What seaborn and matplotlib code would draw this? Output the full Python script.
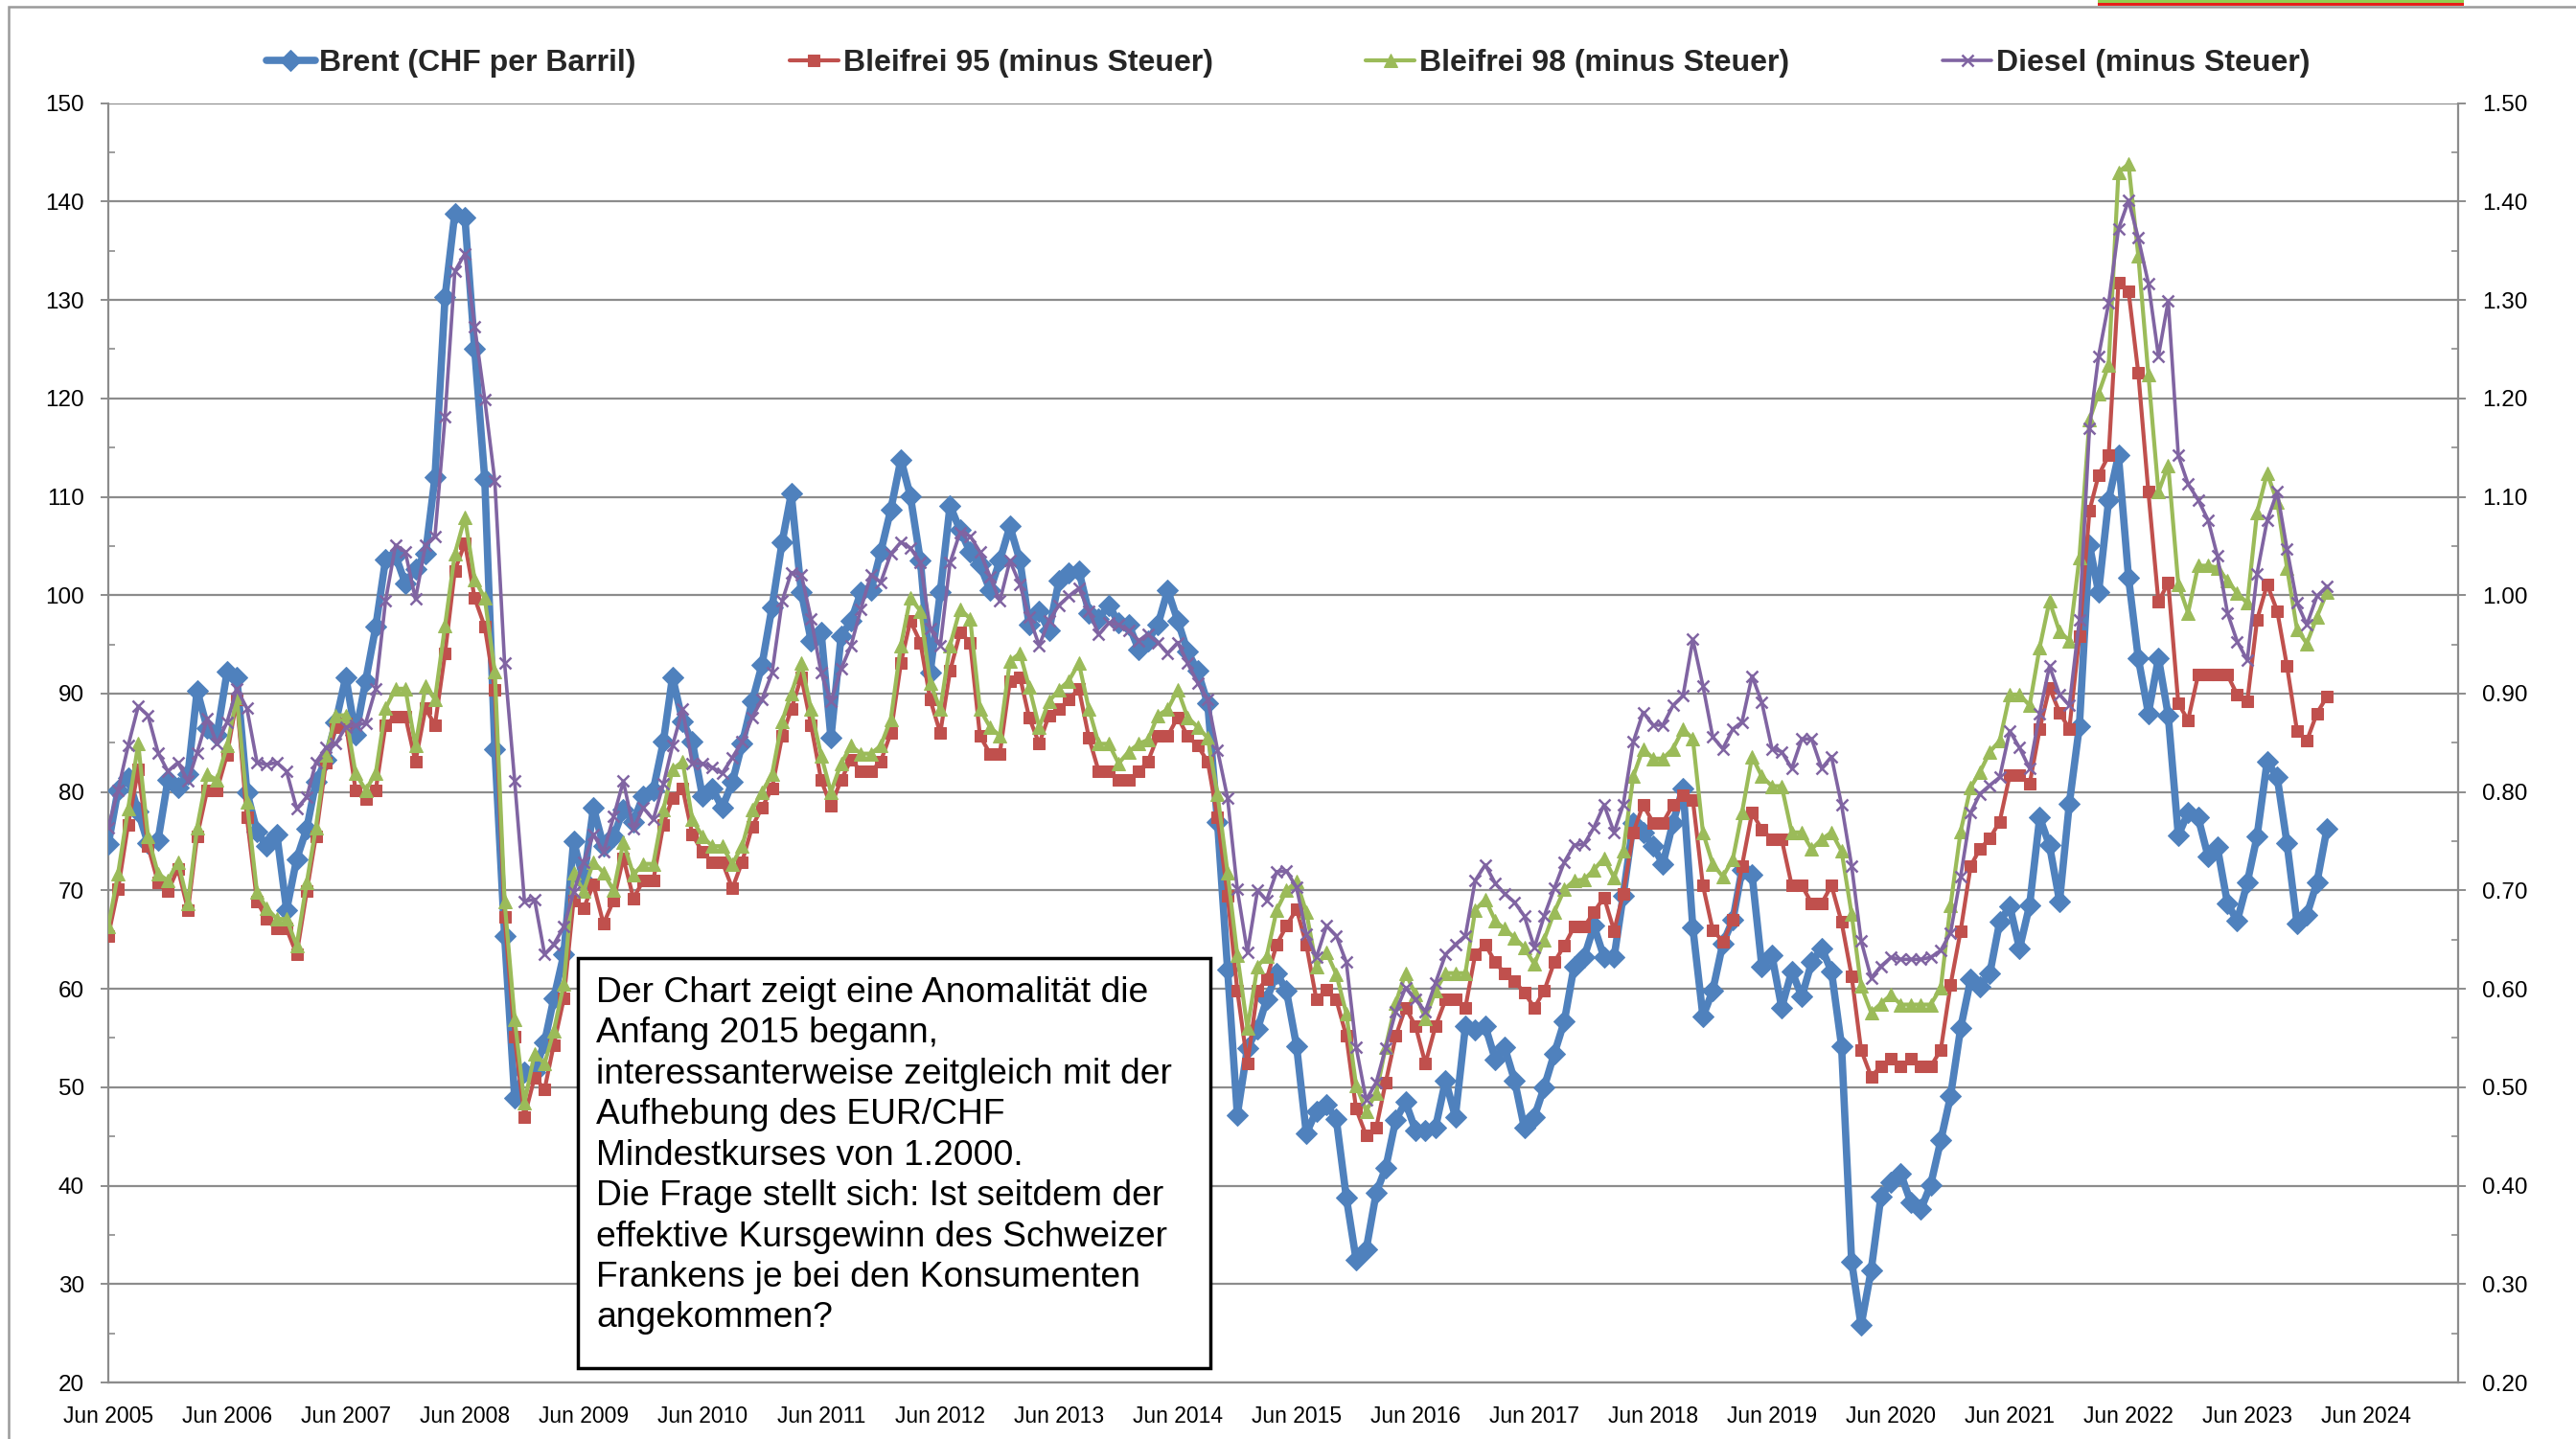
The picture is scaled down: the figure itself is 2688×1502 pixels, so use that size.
import numpy as np
import pandas as pd
import matplotlib
matplotlib.use("Agg")
import matplotlib.pyplot as plt
import matplotlib.dates as mdates
from matplotlib.ticker import MultipleLocator, FormatStrFormatter
from matplotlib.patches import Rectangle
import seaborn as sns

# ---------------- data (monthly, Jun 2005 .. Feb 2024) ----------------
start_month = "2005-06-01"

# Brent in CHF per barrel (left axis)
brent_chf = [
    74.7, 80.2, 81.4, 78.0, 74.8, 75.1, 81.2, 80.5, 81.8, 90.3, 86.5, 85.8,
    92.2, 91.7, 80.0, 76.0, 74.5, 75.7, 68.0, 73.2, 76.3, 81.0, 83.3, 87.1,
    91.7, 85.8, 91.3, 96.8, 103.6, 104.0, 101.2, 102.7, 104.2, 112.0, 130.3, 138.8,
    138.4, 125.0, 111.8, 84.4, 65.4, 48.9, 51.5, 51.5, 54.6, 59.0, 63.5, 75.0,
    71.0, 78.4, 74.5, 75.5, 78.2, 77.0, 79.6, 80.2, 85.1, 91.7, 87.2, 85.1,
    79.6, 80.4, 78.4, 81.0, 84.9, 89.2, 92.9, 98.8, 105.4, 110.3, 100.3, 95.4,
    96.2, 85.5, 95.8, 97.4, 100.3, 100.5, 104.4, 108.7, 113.8, 110.1, 103.5, 92.1,
    100.3, 109.1, 106.6, 104.4, 103.1, 100.5, 103.5, 107.0, 103.5, 97.0, 98.4, 96.4,
    101.5, 102.3, 102.5, 98.2, 97.6, 99.0, 97.2, 97.0, 94.5, 95.4, 97.0, 100.5,
    97.4, 94.3, 92.3, 89.0, 77.0, 62.0, 47.2, 54.0, 55.9, 58.9, 61.6, 59.8,
    54.2, 45.3, 47.6, 48.2, 46.8, 38.8, 32.5, 33.5, 39.3, 41.8, 46.7, 48.5,
    45.6, 45.6, 45.9, 50.7, 47.0, 56.2, 55.8, 56.2, 52.8, 54.1, 50.7, 45.9,
    47.0, 50.0, 53.4, 56.7, 62.3, 63.2, 66.4, 63.2, 63.2, 69.5, 76.9, 75.9,
    74.5, 72.7, 76.9, 80.4, 66.2, 57.2, 59.8, 64.6, 67.0, 72.1, 71.6, 62.3,
    63.4, 58.1, 61.8, 59.2, 62.7, 64.1, 61.8, 54.2, 32.3, 25.8, 31.4, 38.9,
    40.3, 41.2, 38.3, 37.6, 40.1, 44.6, 49.1, 56.0, 61.0, 60.2, 61.6, 66.8,
    68.4, 64.1, 68.5, 77.4, 74.6, 68.9, 78.8, 86.7, 105.1, 100.3, 109.7, 114.2,
    101.8, 93.6, 88.0, 93.6, 87.8, 75.6, 77.9, 77.4, 73.4, 74.4, 68.7, 66.9,
    70.8, 75.5, 83.1, 81.5, 74.8, 66.6, 67.5, 70.8, 76.3,
]

# Fuel prices without tax, in Rappen per litre (right axis shows CHF = Rappen/100)
bleifrei95_rp = [
    65.4, 70.1, 76.7, 82.3, 74.5, 70.8, 69.9, 72.2, 68.0, 75.5, 80.2, 80.2,
    83.8, 89.4, 77.4, 68.9, 67.1, 66.1, 66.1, 63.5, 69.9, 75.5, 83.0, 86.6,
    87.0, 80.2, 79.3, 80.2, 86.8, 87.7, 87.7, 83.1, 88.5, 86.8, 94.1, 102.5,
    105.3, 99.7, 96.8, 90.4, 67.3, 55.1, 47.0, 51.0, 49.8, 54.3, 59.0, 69.0,
    68.2, 70.6, 66.6, 69.0, 73.3, 69.2, 71.0, 71.0, 76.7, 79.4, 80.4, 75.7,
    73.9, 72.9, 72.9, 70.2, 72.9, 76.5, 78.4, 80.4, 85.7, 88.4, 91.7, 86.8,
    81.2, 78.6, 81.2, 83.3, 82.1, 82.1, 83.1, 86.0, 93.1, 97.4, 95.2, 89.4,
    86.0, 92.3, 96.2, 95.2, 85.7, 83.9, 83.9, 91.3, 91.7, 87.6, 84.9, 87.8,
    88.4, 89.4, 90.5, 85.5, 82.1, 82.1, 81.2, 81.2, 82.1, 83.1, 85.7, 85.7,
    87.6, 85.7, 84.7, 83.1, 77.4, 69.5, 59.8, 52.4, 59.8, 61.0, 64.5, 66.4,
    68.1, 64.5, 58.9, 59.9, 58.9, 55.2, 47.8, 45.1, 45.9, 50.5, 55.2, 58.1,
    56.2, 52.4, 56.2, 58.9, 58.9, 58.1, 63.5, 64.5, 62.7, 61.6, 60.8, 59.6,
    58.1, 59.8, 62.7, 64.4, 66.3, 66.3, 67.8, 69.3, 65.9, 69.7, 75.9, 78.7,
    76.9, 76.9, 78.7, 79.7, 79.2, 70.5, 66.0, 64.8, 67.0, 72.5, 77.9, 76.2,
    75.2, 75.2, 70.5, 70.5, 68.7, 68.7, 70.5, 66.8, 61.3, 53.8, 51.1, 52.1,
    52.9, 52.1, 52.9, 52.1, 52.1, 53.8, 60.4, 65.9, 72.5, 74.2, 75.3, 77.0,
    81.7, 81.7, 80.8, 86.4, 90.6, 88.1, 86.4, 95.8, 108.6, 112.2, 114.2, 131.8,
    130.9, 122.6, 110.5, 99.3, 101.3, 89.0, 87.3, 91.9, 91.9, 91.9, 91.9, 89.9,
    89.2, 97.5, 101.1, 98.4, 92.8, 86.2, 85.2, 88.0, 89.7,
]

bleifrei98_rp = [
    66.3, 71.7, 78.3, 84.9, 75.5, 71.7, 71.0, 72.9, 68.7, 76.4, 81.8, 81.2,
    84.7, 89.6, 79.0, 69.8, 68.2, 67.1, 67.1, 64.4, 70.8, 76.4, 83.8, 87.8,
    87.8, 81.9, 80.2, 81.9, 88.5, 90.5, 90.5, 84.7, 90.8, 89.4, 96.9, 104.2,
    107.9, 101.6, 99.7, 92.2, 68.9, 56.9, 48.4, 53.4, 52.4, 55.7, 60.5, 71.8,
    69.9, 72.9, 71.8, 70.0, 74.9, 71.6, 72.7, 72.7, 78.2, 82.3, 83.1, 77.2,
    75.5, 74.5, 74.5, 72.7, 74.5, 78.2, 80.0, 81.8, 87.2, 90.0, 93.1, 88.4,
    83.7, 80.0, 82.9, 84.7, 83.9, 83.9, 84.7, 87.4, 94.9, 99.7, 98.4, 91.1,
    88.4, 94.9, 98.6, 97.6, 88.4, 86.6, 85.7, 93.3, 94.1, 90.7, 86.6, 89.2,
    90.4, 91.3, 93.1, 88.4, 84.9, 84.9, 82.9, 84.1, 84.9, 85.3, 87.8, 88.4,
    90.4, 87.6, 86.6, 85.5, 79.8, 71.8, 63.4, 56.0, 62.3, 63.3, 68.0, 70.0,
    70.9, 67.8, 62.3, 63.7, 61.5, 57.5, 50.2, 47.6, 49.4, 54.1, 58.6, 61.6,
    59.4, 57.0, 59.8, 61.6, 61.6, 61.6, 68.0, 69.1, 66.9, 66.1, 65.2, 64.2,
    62.5, 65.0, 67.8, 70.1, 71.0, 71.1, 72.1, 73.3, 71.3, 74.0, 81.6, 84.4,
    83.4, 83.4, 84.4, 86.4, 85.4, 75.9, 72.7, 71.4, 73.2, 77.9, 83.6, 81.6,
    80.6, 80.6, 75.9, 75.9, 74.2, 75.2, 75.9, 74.0, 67.6, 60.3, 57.6, 58.5,
    59.4, 58.4, 58.4, 58.4, 58.4, 60.1, 68.5, 76.0, 80.5, 82.0, 84.1, 85.2,
    89.9, 89.9, 88.8, 94.7, 99.4, 96.3, 95.4, 103.8, 117.8, 120.5, 123.4, 143.0,
    143.8, 134.5, 122.4, 110.5, 113.2, 101.1, 98.2, 103.0, 103.0, 102.8, 101.5, 100.2,
    99.2, 108.4, 112.4, 109.5, 102.8, 96.5, 95.1, 97.8, 100.3,
]

diesel_rp = [
    76.4, 80.2, 84.7, 88.7, 87.8, 84.0, 82.1, 83.0, 81.1, 84.0, 87.5, 84.9,
    87.1, 90.5, 88.5, 83.0, 82.8, 83.0, 82.1, 78.3, 79.5, 83.0, 84.5, 84.9,
    86.6, 86.8, 87.0, 90.5, 99.4, 105.1, 104.4, 99.6, 105.1, 106.0, 118.1, 132.9,
    134.7, 127.3, 119.9, 111.6, 93.1, 81.1, 68.9, 69.1, 63.5, 64.5, 66.3, 69.8,
    72.9, 75.7, 73.9, 77.5, 81.1, 76.3, 78.4, 77.2, 80.8, 84.7, 88.4, 82.9,
    82.9, 82.5, 81.9, 83.5, 85.1, 87.6, 89.4, 92.1, 99.4, 102.3, 102.1, 97.6,
    92.1, 89.2, 92.5, 94.9, 98.6, 102.1, 101.3, 104.2, 105.4, 104.8, 103.3, 96.6,
    94.9, 103.3, 106.4, 106.0, 104.4, 101.9, 99.4, 103.5, 101.1, 97.8, 94.9, 97.4,
    99.0, 99.9, 100.7, 98.4, 96.0, 97.2, 97.0, 96.4, 95.4, 96.0, 95.2, 94.1,
    95.2, 93.1, 91.1, 89.4, 84.3, 79.4, 70.1, 63.7, 70.0, 69.0, 71.9, 72.0,
    70.3, 65.6, 63.2, 66.4, 65.4, 62.7, 54.1, 48.7, 50.5, 54.0, 57.7, 60.1,
    58.9, 57.7, 60.6, 63.5, 64.5, 65.4, 71.0, 72.6, 70.7, 69.7, 68.8, 67.4,
    64.2, 67.4, 70.2, 72.9, 74.6, 74.7, 76.4, 78.7, 75.9, 78.7, 85.1, 88.1,
    86.8, 86.8, 88.8, 89.8, 95.5, 90.8, 85.6, 84.4, 86.4, 87.1, 91.8, 89.1,
    84.4, 84.1, 82.4, 85.4, 85.4, 82.4, 83.6, 78.7, 72.5, 64.9, 61.1, 62.3,
    63.2, 63.0, 63.0, 63.0, 63.2, 63.9, 65.7, 71.4, 77.9, 79.8, 80.7, 81.5,
    86.2, 84.5, 82.4, 88.0, 92.8, 89.9, 88.8, 97.5, 117.0, 124.3, 129.7, 137.2,
    140.1, 136.3, 131.7, 124.3, 129.9, 114.2, 111.3, 109.7, 107.6, 104.0, 98.2, 95.3,
    93.4, 102.2, 107.6, 110.5, 104.7, 99.2, 97.0, 99.9, 100.9,
]

series_names = ["Brent (CHF per Barril)", "Bleifrei 95 (minus Steuer)",
                "Bleifrei 98 (minus Steuer)", "Diesel (minus Steuer)"]
left_ticks = list(range(20, 151, 10))
right_ticks = [v / 100 for v in left_ticks]

note_text = ("Der Chart zeigt eine Anomalität die\n"
             "Anfang 2015 begann,\n"
             "interessanterweise zeitgleich mit der\n"
             "Aufhebung des EUR/CHF\n"
             "Mindestkurses von 1.2000.\n"
             "Die Frage stellt sich: Ist seitdem der\n"
             "effektive Kursgewinn des Schweizer\n"
             "Frankens je bei den Konsumenten\n"
             "angekommen?")

# ---------------- frame ----------------
dates = pd.date_range(start_month, periods=len(brent_chf), freq="MS")
df = pd.DataFrame({
    "Datum": dates,
    "Brent": brent_chf,
    "B95": np.array(bleifrei95_rp) / 100.0,
    "B98": np.array(bleifrei98_rp) / 100.0,
    "Diesel": np.array(diesel_rp) / 100.0,
})

sns.set_theme(style="white")
plt.rcParams["font.family"] = ["Liberation Sans", "DejaVu Sans"]

W, H = 2688, 1502
fig = plt.figure(figsize=(W / 100, H / 100), dpi=100)
fig.patch.set_facecolor("white")

L, R, T, B = 113, 2565, 107.7, 1443
ax = fig.add_axes([L / W, 1 - B / H, (R - L) / W, (B - T) / H])
ax2 = ax.twinx()

grid_c = "#8c8c8c"
c_blue, c_red, c_green, c_purple = "#4F81BD", "#C0504D", "#9BBB59", "#8064A2"

sns.lineplot(data=df, x="Datum", y="Brent", ax=ax, color=c_blue, linewidth=5.5,
             marker="D", markersize=11, markeredgecolor=c_blue,
             label=series_names[0], zorder=3)
sns.lineplot(data=df, x="Datum", y="B95", ax=ax2, color=c_red, linewidth=3.0,
             marker="s", markersize=9, markeredgecolor=c_red,
             label=series_names[1], zorder=3)
sns.lineplot(data=df, x="Datum", y="B98", ax=ax2, color=c_green, linewidth=3.0,
             marker="^", markersize=10.5, markeredgecolor=c_green,
             label=series_names[2], zorder=4)
sns.lineplot(data=df, x="Datum", y="Diesel", ax=ax2, color=c_purple, linewidth=2.6,
             marker="x", markersize=9, markeredgewidth=1.8, markeredgecolor=c_purple,
             label=series_names[3], zorder=5)

h1, l1 = ax.get_legend_handles_labels()
h2, l2 = ax2.get_legend_handles_labels()
for a in (ax, ax2):
    if a.get_legend() is not None:
        a.get_legend().remove()

# axes limits & ticks
ax.set_xlim(pd.Timestamp("2005-06-01"), pd.Timestamp("2025-03-10"))
ax.set_ylim(20, 150)
ax2.set_ylim(0.2, 1.5)
ax.set_xlabel("")
ax.set_ylabel("")
ax2.set_ylabel("")

ax.set_yticks(left_ticks)
ax.yaxis.set_minor_locator(MultipleLocator(5))
ax2.set_yticks(right_ticks)
ax2.yaxis.set_minor_locator(MultipleLocator(0.05))
ax2.yaxis.set_major_formatter(FormatStrFormatter("%.2f"))

ax.xaxis.set_major_locator(mdates.MonthLocator(bymonth=6, bymonthday=1))
ax.xaxis.set_major_formatter(mdates.DateFormatter("%b %Y"))
ax.xaxis.set_minor_locator(mdates.MonthLocator(bymonth=[3, 9, 12], bymonthday=1))

ax.yaxis.grid(True, which="major", color=grid_c, linewidth=1.6)
ax.xaxis.grid(False)
ax2.grid(False)

for sp in ("top", "right"):
    ax.spines[sp].set_visible(False)
for sp in ("top", "left", "bottom"):
    ax2.spines[sp].set_visible(False)
for a, sp in ((ax, "left"), (ax, "bottom"), (ax2, "right")):
    a.spines[sp].set_color(grid_c)
    a.spines[sp].set_linewidth(1.6)

ax.tick_params(axis="y", which="major", direction="out", length=6, width=1.4,
               color=grid_c, labelsize=17.5, pad=12, labelcolor="black")
ax.tick_params(axis="y", which="minor", direction="in", length=5, width=1.2, color=grid_c)
ax2.tick_params(axis="y", which="major", direction="out", length=6, width=1.4,
                color=grid_c, labelsize=17.5, pad=12, labelcolor="black")
ax2.tick_params(axis="y", which="minor", direction="in", length=5, width=1.2, color=grid_c)
ax.tick_params(axis="x", which="major", direction="inout", length=14, width=1.4,
               color=grid_c, labelsize=16.5, pad=10, labelcolor="black")
ax.tick_params(axis="x", which="minor", direction="in", length=6, width=1.2, color=grid_c)

# legend
leg = fig.legend(h1 + h2, l1 + l2, loc="center", bbox_to_anchor=(0.5, 1 - 66 / H),
                 ncol=4, frameon=False, handlelength=1.6, handletextpad=0.15,
                 columnspacing=5.0,
                 prop={"family": "Liberation Sans", "weight": "bold", "size": 23})

# annotation box
bx0, by0, bx1, by1 = 603, 1000, 1263, 1428
fig.add_artist(Rectangle((bx0 / W, 1 - by1 / H), (bx1 - bx0) / W, (by1 - by0) / H,
                         transform=fig.transFigure, facecolor="white",
                         edgecolor="black", linewidth=2.5, zorder=10))
fig.text(622 / W, 1 - 1019 / H, note_text, ha="left", va="top", fontsize=26.8,
         linespacing=1.275, color="black", zorder=11,
         family=["Liberation Sans", "DejaVu Sans"])

# outer chart-area border and top remnants
fig.add_artist(Rectangle((9 / W, -0.05), 1.1, 1 - 7 / H + 0.05, transform=fig.transFigure,
                         fill=False, edgecolor="#9a9a9a", linewidth=1.8, zorder=1))
fig.add_artist(Rectangle((2189 / W, 1 - 3 / H), (2571 - 2189) / W, 3 / H,
                         transform=fig.transFigure, facecolor="#92D050",
                         edgecolor="none", zorder=2))
fig.add_artist(Rectangle((2189 / W, 1 - 6 / H), (2571 - 2189) / W, 3 / H,
                         transform=fig.transFigure, facecolor="#E8201A",
                         edgecolor="none", zorder=2))

fig.savefig("out.png", dpi=100, facecolor="white")
